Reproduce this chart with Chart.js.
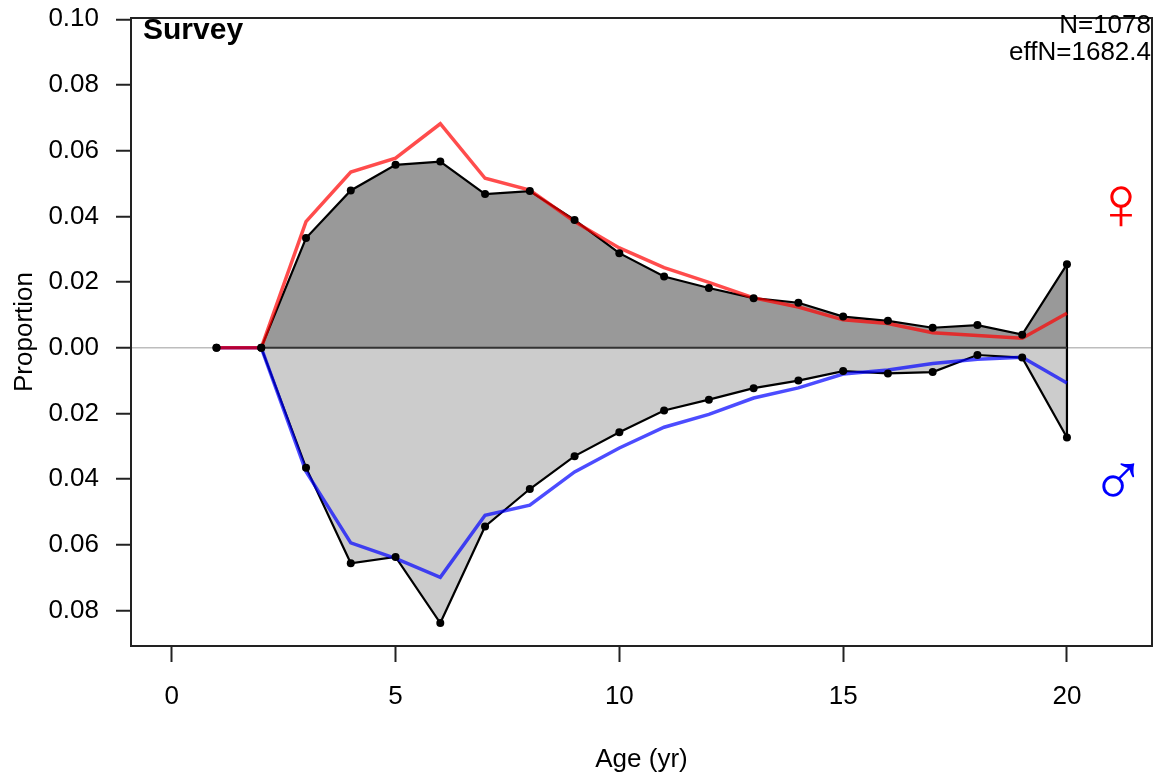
<!DOCTYPE html>
<html>
<head>
<meta charset="utf-8">
<script src="https://cdn.jsdelivr.net/npm/chart.js@4"></script>
<style>
html,body{margin:0;padding:0;background:#fff;}
canvas{display:block;}
</style>
</head>
<body>
<canvas id="c" width="1161" height="779"></canvas>
<script>
const ages = [1,2,3,4,5,6,7,8,9,10,11,12,13,14,15,16,17,18,19,20];
const femaleObs = [0,0,0.0334,0.0479,0.0557,0.0567,0.0468,0.0477,0.0389,0.0288,0.0217,0.0182,0.0151,0.0137,0.0095,0.0082,0.0061,0.0069,0.0040,0.0254];
const femaleExp = [0,0,0.0384,0.0535,0.0577,0.0682,0.0516,0.0480,0.0384,0.0304,0.0244,0.0199,0.0152,0.0124,0.0085,0.0074,0.0046,0.0037,0.0029,0.0105];
const maleObs = [0,0,-0.0365,-0.0656,-0.0637,-0.0838,-0.0544,-0.0430,-0.0330,-0.0257,-0.0191,-0.0158,-0.0123,-0.0100,-0.0071,-0.0078,-0.0074,-0.0022,-0.0030,-0.0273];
const maleExp = [0,0,-0.0377,-0.0594,-0.0641,-0.0699,-0.0510,-0.0479,-0.0378,-0.0305,-0.0242,-0.0203,-0.0153,-0.0122,-0.0080,-0.0068,-0.0048,-0.0035,-0.0029,-0.0107];
const xTicks = [0,5,10,15,20];
const yTicks = [-0.08,-0.06,-0.04,-0.02,0,0.02,0.04,0.06,0.08,0.10];
const panelTitle = 'Survey';
const sampleText = ['N=1078','effN=1682.4'];
const xRange = [-0.91, 21.9];
const yRange = [-0.0908, 0.1004];

const FONT = '"Liberation Sans", Arial, Helvetica, sans-serif';
const pts = (ys) => ages.map((a,i)=>({x:a,y:ys[i]}));
const last = ages.length-1;

const boxPlugin = {
  id:'boxAndText',
  afterDraw(chart){
    const {ctx, chartArea:a, scales} = chart;
    ctx.save();
    ctx.strokeStyle = '#222';
    ctx.lineWidth = 2;
    ctx.strokeRect(a.left, a.top, a.right-a.left, a.bottom-a.top);
    ctx.fillStyle = '#000';
    ctx.font = 'bold 30px ' + FONT;
    ctx.textAlign = 'left';
    ctx.textBaseline = 'alphabetic';
    ctx.fillText(panelTitle, a.left+12, a.top+21);
    ctx.font = '26px ' + FONT;
    ctx.textAlign = 'right';
    ctx.fillText(sampleText[0], a.right-1, a.top+15);
    ctx.fillText(sampleText[1], a.right-1, a.top+42);
    ctx.font = '76px ' + FONT;
    ctx.textAlign = 'center';
    ctx.textBaseline = 'middle';
    ctx.fillStyle = '#ff0000';
    ctx.fillText('\u2640', scales.x.getPixelForValue(21.2), scales.y.getPixelForValue(0.0424));
    ctx.fillStyle = '#0000ff';
    ctx.fillText('\u2642', scales.x.getPixelForValue(21.15), scales.y.getPixelForValue(-0.0418));
    ctx.restore();
  }
};

new Chart(document.getElementById('c'), {
  type:'scatter',
  data:{
    datasets:[
      {data:pts(femaleObs), showLine:true, fill:'origin', backgroundColor:'#999999', borderColor:'#000', borderWidth:2.2, pointRadius:0, order:6},
      {data:pts(maleObs), showLine:true, fill:'origin', backgroundColor:'#cccccc', borderColor:'#000', borderWidth:2.2, pointRadius:0, order:6},
      {data:[{x:ages[1],y:0},{x:ages[last],y:0}], showLine:true, borderColor:'#333', borderWidth:2, pointRadius:0, order:5},
      {data:[{x:ages[last],y:femaleObs[last]},{x:ages[last],y:maleObs[last]}], showLine:true, borderColor:'#000', borderWidth:2.2, pointRadius:0, order:5},
      {data:pts(maleExp), showLine:true, borderColor:'rgba(0,0,255,0.7)', borderWidth:3.5, pointRadius:0, order:4},
      {data:pts(femaleExp), showLine:true, borderColor:'rgba(255,0,0,0.7)', borderWidth:3.5, pointRadius:0, order:3},
      {data:pts(femaleObs), showLine:false, pointRadius:4, pointBackgroundColor:'#000', pointBorderColor:'#000', pointBorderWidth:0, order:1},
      {data:pts(maleObs), showLine:false, pointRadius:4, pointBackgroundColor:'#000', pointBorderColor:'#000', pointBorderWidth:0, order:1}
    ]
  },
  options:{
    responsive:false,
    animation:false,
    devicePixelRatio:1,
    layout:{padding:{left:0,top:18,right:9,bottom:0}},
    plugins:{legend:{display:false}, tooltip:{enabled:false}},
    scales:{
      x:{
        type:'linear', min:xRange[0], max:xRange[1],
        afterBuildTicks:(s)=>{ s.ticks = xTicks.map(v=>({value:v})); },
        afterFit:(s)=>{ s.height = 133; s.paddingLeft = 0; s.paddingRight = 0; },
        ticks:{callback:(v)=>String(v), color:'#000', font:{family:FONT,size:26}, padding:19, maxRotation:0, autoSkip:false},
        grid:{drawOnChartArea:false, tickLength:16, tickColor:'#222', tickWidth:2},
        border:{display:false},
        title:{display:true, text:'Age (yr)', color:'#000', font:{family:FONT,size:26}, padding:{top:0,bottom:4}}
      },
      y:{
        type:'linear', min:yRange[0], max:yRange[1],
        afterBuildTicks:(s)=>{ s.ticks = yTicks.map(v=>({value:v})); },
        afterFit:(s)=>{ s.width = 131; s.paddingTop = 0; s.paddingBottom = 0; },
        ticks:{callback:(v)=>Math.abs(v).toFixed(2), color:'#000', font:{family:FONT,size:26}, padding:17},
        grid:{drawOnChartArea:true, color:(c)=> (c.tick && Math.abs(c.tick.value)<1e-9) ? '#bdbdbd' : 'rgba(0,0,0,0)', lineWidth:1.5, tickLength:15, tickColor:'#222', tickWidth:2},
        border:{display:false},
        title:{display:true, text:'Proportion', color:'#000', font:{family:FONT,size:26}, padding:{top:9,bottom:0}}
      }
    }
  },
  plugins:[boxPlugin]
});
</script>
</body>
</html>
